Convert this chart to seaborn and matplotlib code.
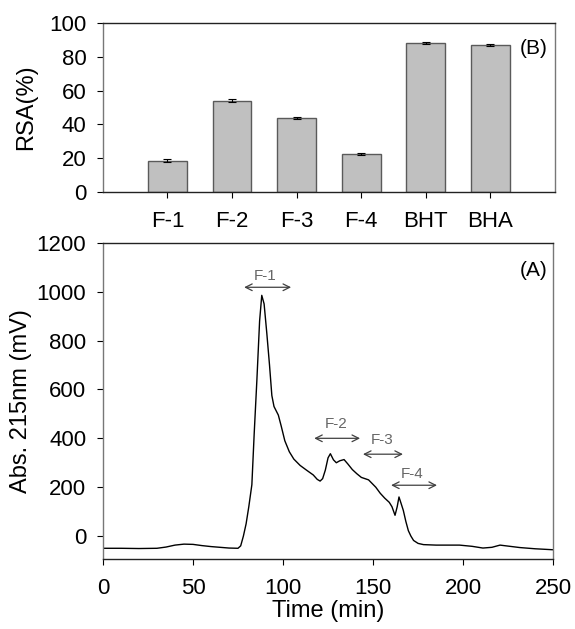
import numpy as np
import pandas as pd
import matplotlib
matplotlib.use("Agg")
import matplotlib.pyplot as plt
import seaborn as sns

# ---- data: panel B (bars) ----
categories = ["F-1", "F-2", "F-3", "F-4", "BHT", "BHA"]
rsa_values = [18.5, 54.0, 44.0, 22.5, 88.3, 87.4]
rsa_errors = [1.0, 0.8, 0.6, 0.8, 0.8, 0.6]

# ---- data: panel A (chromatogram) ----
time_min = [0, 10, 20, 30, 35, 40, 45, 50, 55, 60, 65, 70, 75, 76.5, 78, 79.5,
            81, 82.7, 84, 85.5, 87, 88.2, 89.5, 91, 92.5, 93.8, 95, 97.4, 99,
            101, 103.5, 106, 109.5, 113, 116.8, 119, 120.6, 122, 123.5, 125,
            126.3, 128, 129.6, 131.5, 133.9, 136, 138.5, 141, 143.5, 145.5,
            147.5, 149.5, 151.5, 154, 156.5, 159, 160.5, 162.2, 163.4, 164.4,
            165.5, 166.8, 168.2, 169.6, 171, 172.5, 175, 178, 185, 192, 198,
            205, 211, 216, 220.5, 226, 231.5, 240, 250]
abs_mv = [-50, -50, -51, -50, -45, -37, -33, -34, -39, -43, -46, -49, -50, -40,
          0, 50, 120, 210, 420, 640, 880, 985, 950, 830, 700, 575, 530, 495,
          450, 390, 345, 315, 289, 270, 250, 232, 225, 235, 270, 320, 337, 312,
          300, 308, 313, 295, 272, 255, 240, 235, 230, 215, 200, 175, 155, 138,
          120, 85, 120, 160, 135, 105, 60, 22, 0, -18, -30, -35, -37, -37, -37,
          -42, -49, -46, -37, -42, -47, -52, -56]

# fraction annotations (arrow start, arrow end, height; label position)
frac_labels = ["F-1", "F-2", "F-3", "F-4"]
frac_start = [78.4, 117.3, 144.4, 160.0]
frac_end = [104.5, 142.8, 166.6, 185.5]
frac_y = [1018, 400, 335, 208]
frac_text_x = [90, 129.5, 155, 171.5]
frac_text_y = [1065, 460, 392, 252]

sns.set_style("ticks")
plt.rcParams["font.family"] = ["Liberation Sans", "DejaVu Sans"]
plt.rcParams["text.color"] = "black"
plt.rcParams["axes.labelcolor"] = "black"
plt.rcParams["xtick.color"] = "black"
plt.rcParams["ytick.color"] = "black"

fig = plt.figure(figsize=(5.75, 6.29), dpi=100)
ax_b = fig.add_axes([0.179, 0.695, 0.786, 0.268])
ax_a = fig.add_axes([0.179, 0.112, 0.783, 0.502])

# ---- panel B ----
df_b = pd.DataFrame({"cat": categories, "rsa": rsa_values})
sns.barplot(data=df_b, x="cat", y="rsa", ax=ax_b, color="#c0c0c0",
            edgecolor="#5a5a5a", linewidth=1.0, width=0.6, errorbar=None,
            saturation=1)
ax_b.errorbar(np.arange(len(categories)), rsa_values, yerr=rsa_errors,
              fmt="none", ecolor="black", elinewidth=0.8, capsize=2.8,
              capthick=0.8)
ax_b.set_xlim(-1, 6)
ax_b.set_ylim(0, 100)
ax_b.set_yticks([0, 20, 40, 60, 80, 100])
ax_b.set_xlabel("")
ax_b.set_ylabel("RSA(%)", fontsize=17)
ax_b.yaxis.set_label_coords(-0.145, 0.5)
ax_b.tick_params(axis="both", labelsize=16, length=4, width=0.8,
                 colors="black")
ax_b.tick_params(axis="x", pad=10)
ax_b.tick_params(axis="y", pad=8)
ax_b.text(5.67, 85, "(B)", fontsize=15, ha="center", va="center")

# ---- panel A ----
df_a = pd.DataFrame({"time": time_min, "abs": abs_mv})
sns.lineplot(data=df_a, x="time", y="abs", ax=ax_a, color="black",
             linewidth=1.0, sort=False)
ax_a.set_xlim(0, 250)
ax_a.set_ylim(-92, 1200)
ax_a.set_xticks([0, 50, 100, 150, 200, 250])
ax_a.set_yticks([0, 200, 400, 600, 800, 1000, 1200])
ax_a.set_xlabel("Time (min)", fontsize=17, labelpad=1)
ax_a.set_ylabel("Abs. 215nm (mV)", fontsize=17)
ax_a.yaxis.set_label_coords(-0.158, 0.5)
ax_a.tick_params(axis="both", labelsize=16, length=4, width=0.8,
                 colors="black")
ax_a.tick_params(axis="x", pad=10)
ax_a.tick_params(axis="y", pad=8)
ax_a.text(247, 1088, "(A)", fontsize=15, ha="right", va="center")

for lab, x0, x1, yy, tx, ty in zip(frac_labels, frac_start, frac_end, frac_y,
                                   frac_text_x, frac_text_y):
    ax_a.annotate("", xy=(x0, yy), xytext=(x1, yy),
                  arrowprops=dict(arrowstyle="<->", color="#404040", lw=0.9,
                                  shrinkA=0, shrinkB=0,
                                  mutation_scale=12))
    ax_a.text(tx, ty, lab, fontsize=11, color="#666666", ha="center",
              va="center")

for ax in (ax_a, ax_b):
    for side in ("top", "bottom"):
        ax.spines[side].set_visible(True)
        ax.spines[side].set_color("#222222")
        ax.spines[side].set_linewidth(1.0)
    for side in ("left", "right"):
        ax.spines[side].set_visible(True)
        ax.spines[side].set_color("#777777")
        ax.spines[side].set_linewidth(1.0)
    ax.tick_params(top=False, right=False)

fig.savefig("out.png", dpi=100)
